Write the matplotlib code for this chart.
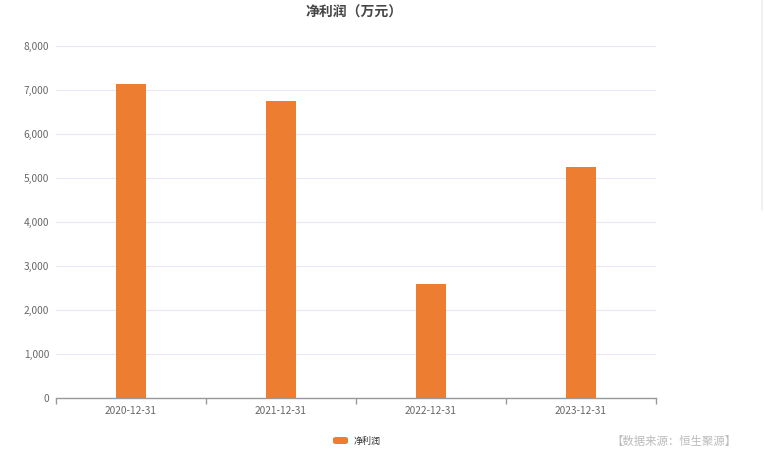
import matplotlib
matplotlib.use("Agg")
import matplotlib.pyplot as plt
from matplotlib.patches import FancyBboxPatch
from matplotlib.lines import Line2D
from matplotlib.ticker import FuncFormatter, FixedLocator

plt.rcParams['font.family'] = ['Noto Sans CJK SC', 'DejaVu Sans']

categories = ['2020-12-31', '2021-12-31', '2022-12-31', '2023-12-31']
values = [7136, 6752, 2584, 5243]
series_name = '净利润'
title = '净利润（万元）'
source = '【数据来源：恒生聚源】'
bar_color = '#ED7D31'

W, H = 765, 455
fig = plt.figure(figsize=(W / 100, H / 100), dpi=100)
ax = fig.add_axes([56 / W, (H - 398) / H, 600 / W, 352 / H])

x = list(range(len(categories)))
ax.bar(x, values, width=0.2, color=bar_color, zorder=3)
ax.set_xlim(-0.5, len(categories) - 0.5)
ax.set_ylim(0, 8000)
ax.set_yticks(range(0, 8001, 1000))
ax.yaxis.set_major_formatter(FuncFormatter(lambda v, p: f'{int(v):,}'))
ax.grid(axis='y', color='#E6E9F5', linewidth=0.8, zorder=0)
for s in ['top', 'right', 'left']:
    ax.spines[s].set_visible(False)
ax.spines['bottom'].set_color('#999999')
ax.spines['bottom'].set_linewidth(1)
ax.tick_params(axis='y', length=0, labelsize=7.3, labelcolor='#666666', pad=5)
ax.set_xticks(x)
ax.set_xticklabels(categories)
ax.tick_params(axis='x', which='major', length=0, labelsize=7.3, labelcolor='#666666', pad=6)
ax.xaxis.set_minor_locator(FixedLocator([i - 0.5 for i in range(len(categories) + 1)]))
ax.tick_params(axis='x', which='minor', length=4, color='#999999', width=1)

fig.text(354 / W, 1 - 13 / H, title, ha='center', va='center', fontsize=10,
         fontweight='bold', color='#464646')

# legend
patch = FancyBboxPatch((333 / W, 1 - 444 / H), 15 / W, 7 / H,
                       boxstyle='round,pad=0,rounding_size=0.004',
                       transform=fig.transFigure, facecolor=bar_color, edgecolor='none')
fig.add_artist(patch)
fig.text(354 / W, 1 - 441 / H, series_name, ha='left', va='center', fontsize=6.5, color='#333333')
fig.text(737 / W, 1 - 441 / H, source, ha='right', va='center', fontsize=8.2, color='#BBBBBB')

# faint scrollbar-like line at right edge
fig.add_artist(Line2D([761.5 / W, 761.5 / W], [1 - 210 / H, 1.0], transform=fig.transFigure,
                      color='#EEEEEE', linewidth=1.2))

fig.savefig('out.png', dpi=100)
